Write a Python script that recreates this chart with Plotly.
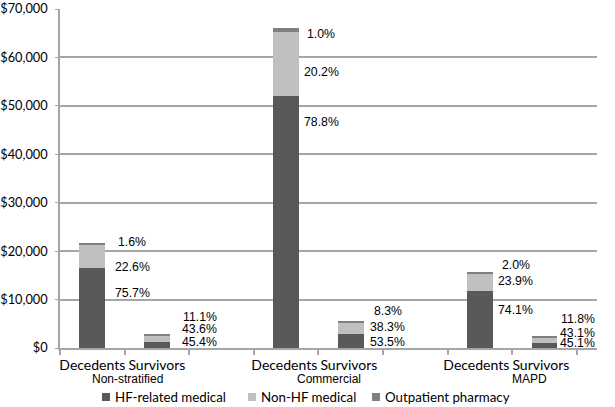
import plotly.graph_objects as go

# ---- data ----
categories = ["Decedents", "Survivors", " ", "Decedents ", "Survivors ", "  ", "Decedents  ", "Survivors  "]
group_names = ["Non-stratified", "Commercial", "MAPD"]
series_names = ["HF-related medical", "Non-HF medical", "Outpatient pharmacy"]
hf_medical = [16430, 1320, None, 52000, 2980, None, 11670, 1120]
non_hf_medical = [4900, 1260, None, 13330, 2130, None, 3760, 1070]
outpatient_pharmacy = [350, 320, None, 660, 460, None, 315, 290]
pct_hf = ["75.7%", "45.4%", None, "78.8%", "53.5%", None, "74.1%", "45.1%"]
pct_nonhf = ["22.6%", "43.6%", None, "20.2%", "38.3%", None, "23.9%", "43.1%"]
pct_pharm = ["1.6%", "11.1%", None, "1.0%", "8.3%", None, "2.0%", "11.8%"]
y_ticks = [0, 10000, 20000, 30000, 40000, 50000, 60000, 70000]
y_ticklabels = ["$0", "$10,000", "$20,000", "$30,000", "$40,000", "$50,000", "$60,000", "$70,000"]

# ---- styles ----
colors = ["#595959", "#bfbfbf", "#7f7f7f"]
grid_c = "#a6a6a6"
tick_font = "Lato, 'Open Sans', sans-serif"
label_font = "Liberation Sans, Arial, sans-serif"
W, H = 615, 407
ML, MR, MT, MB = 60, 18, 9, 59
plot_w = W - ML - MR
plot_h = H - MT - MB

fig = go.Figure()
for name, vals, col in zip(series_names, [hf_medical, non_hf_medical, outpatient_pharmacy], colors):
    fig.add_bar(x=categories, y=vals, name=name, marker=dict(color=col, line=dict(width=0)),
                showlegend=False)

# percentage labels (screen-pixel offsets relative to each bar top), style only
label_dx = [40, 43, 0, 35, 37, 0, 36, 33]
label_dy = {  # (pharm, nonhf, hf)
    0: (-1, 24, 50),
    1: (-17, -5, 8),
    3: (6, 44, 94),
    4: (-10, 6, 21),
    6: (-7, 9, 38),
    7: (-17, -3, 7),
}
annotations = []
for i, cat in enumerate(categories):
    if hf_medical[i] is None:
        continue
    top = hf_medical[i] + non_hf_medical[i] + outpatient_pharmacy[i]
    for txt, dy in zip((pct_pharm[i], pct_nonhf[i], pct_hf[i]), label_dy[i]):
        annotations.append(dict(x=cat, y=top, xref="x", yref="y", text=txt, showarrow=False,
                                xshift=label_dx[i], yshift=-dy, xanchor="center", yanchor="middle",
                                font=dict(family=label_font, size=12.3, color="#000000")))

# group labels under the category pairs
group_x = [0.5, 3.5, 6.5]
for gx, gname in zip(group_x, group_names):
    annotations.append(dict(x=(gx + 0.5) / len(categories), y=0, xref="paper", yref="paper", text=gname,
                            showarrow=False, yshift=-31, xanchor="center", yanchor="middle",
                            font=dict(family=label_font, size=12, color="#000000")))

# custom legend (pixel layout positions)
legend_sq_x = [102, 248, 372]
legend_txt_x = [113, 259, 383]
legend_y = 397
sq = 8
shapes = []
def px_x(p):
    return (p - ML) / plot_w
def px_y(p):
    return (H - MB - p) / plot_h
for name, col, sx, tx in zip(series_names, colors, legend_sq_x, legend_txt_x):
    shapes.append(dict(type="rect", xref="paper", yref="paper",
                       x0=px_x(sx), x1=px_x(sx + sq), y0=px_y(legend_y + sq / 2), y1=px_y(legend_y - sq / 2),
                       fillcolor=col, line=dict(width=0)))
    annotations.append(dict(x=px_x(tx), y=px_y(legend_y), xref="paper", yref="paper", text=name,
                            showarrow=False, xanchor="left", yanchor="middle",
                            font=dict(family=tick_font, size=13.3, color="#000000")))

fig.update_layout(
    barmode="stack",
    bargap=0.6,
    width=W, height=H,
    margin=dict(l=ML, r=MR, t=MT, b=MB, autoexpand=False),
    paper_bgcolor="white", plot_bgcolor="white",
    showlegend=False,
    annotations=annotations,
    shapes=shapes,
    xaxis=dict(type="category", categoryorder="array", categoryarray=categories,
               tickson="boundaries", ticks="outside", ticklen=5, tickcolor=grid_c, tickwidth=1.5,
               showline=True, linecolor=grid_c, linewidth=1.5, showgrid=False,
               tickangle=0, automargin=False, ticklabelstandoff=3,
               tickfont=dict(family=tick_font, size=14, color="#000000")),
    yaxis=dict(range=[0, 70000], tickvals=y_ticks, ticktext=y_ticklabels,
               showgrid=True, gridcolor=grid_c, gridwidth=1.5,
               showline=True, linecolor=grid_c, linewidth=1.5,
               ticks="outside", ticklen=3, tickcolor=grid_c,
               zeroline=False, automargin=False, ticklabelstandoff=5,
               tickfont=dict(family=tick_font, size=12.8, color="#000000")),
)

fig.write_html("out.html", config={"displayModeBar": False},
               post_script="document.body.style.margin='0px';")
